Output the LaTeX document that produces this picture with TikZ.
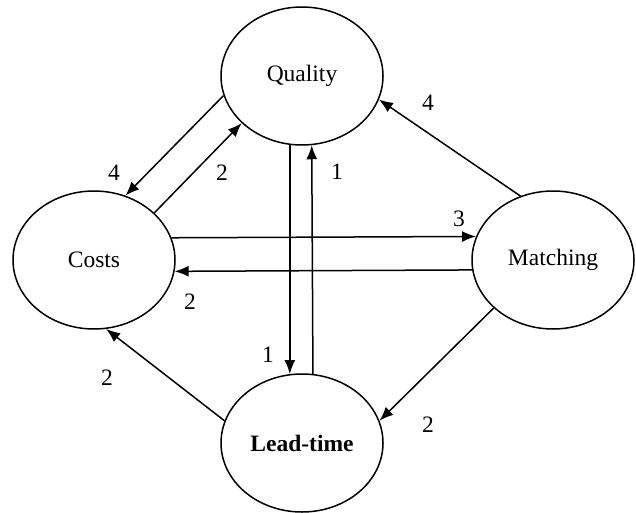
\documentclass[tikz,border=0pt]{standalone}
\usepackage{fontspec}
\setmainfont{Liberation Serif}
\usetikzlibrary{arrows.meta,shapes.geometric}

\begin{document}
\begin{tikzpicture}[x=1pt,y=-1pt,>={Latex[length=14pt,width=11pt]}, line width=1.5pt, every node/.style={font=\fontsize{23.5}{28}\selectfont}]
\tikzstyle{state}=[draw, ellipse, minimum width=162pt, minimum height=138pt, inner sep=0pt]
\tikzstyle{num}=[inner sep=0pt]
\useasboundingbox (0,0) rectangle (636,513);
\node[state] (qual) at (302,76) {Quality};
\node[state] (costs) at (94,260) {Costs};
\node[state] (match) at (553,260) {Matching};
\node[state] (lead) at (302,443) {\textbf{Lead-time}};
% pair between costs and quality
\draw[->] (costs.38.6) -- (qual.218.6);
\draw[->] (qual.194.5) -- (costs.64.5);
% horizontal pair
\draw[->] (costs.16.75) -- (match.163.25);
\draw[->] (match.187.83) -- (costs.352.17);
% vertical pair
\draw[->] (qual.260) -- (lead.100);
\draw[->] (lead.81.7) -- (qual.278.3);
\draw[->] (match.117.2) -- (qual.343.5);
\draw[->] (match.219) -- (lead.16);
\draw[->] (lead.164) -- (costs.280.5);
% weights
\node[num] (wqc) at (114,173) {4};
\node[num] (wcq) at (222,173) {2};
\node[num] (wcm) at (459,219) {3};
\node[num] (wmc) at (190,302) {2};
\node[num] (wql) at (268,355) {1};
\node[num] (wlq) at (337,172) {1};
\node[num] (wmq) at (428,103) {4};
\node[num] (wml) at (428,425) {2};
\node[num] (wlc) at (107,378) {2};
\end{tikzpicture}
\end{document}
